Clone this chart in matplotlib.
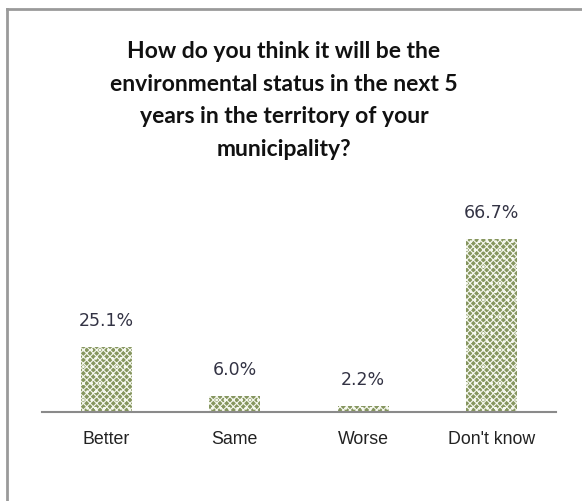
import matplotlib
matplotlib.use("Agg")
import matplotlib.pyplot as plt
from matplotlib.lines import Line2D

categories = ["Better", "Same", "Worse", "Don't know"]
values = [25.1, 6.0, 2.2, 66.7]
value_labels = ["25.1%", "6.0%", "2.2%", "66.7%"]
title = ("How do you think it will be the\nenvironmental status in the next 5\n"
         "years in the territory of your\nmunicipality?")

W, H = 582, 502
fig = plt.figure(figsize=(W / 100, H / 100), dpi=100)
fig.patch.set_facecolor("white")

# frame lines along the top and left edges
fig.add_artist(Line2D([7 / W, 7 / W], [0, 1 - 10 / H], color="#9a9a9a", lw=2.0))
fig.add_artist(Line2D([7 / W, 1], [1 - 10 / H, 1 - 10 / H], color="#9a9a9a", lw=2.0))

base_px = 413
left, right = 42 / W, 556 / W
bottom = 1 - base_px / H
top_px = 200
ax = fig.add_axes([left, bottom, right - left, (base_px - top_px) / H])
ymax = 66.7 * (base_px - top_px) / (base_px - 240)
ax.set_ylim(0, ymax)
ax.set_xlim(-0.5, len(categories) - 0.5)

plt.rcParams["hatch.linewidth"] = 0.8
bars = ax.bar(range(len(categories)), values, width=0.40,
              color="#86965f", edgecolor="#f6f8f0", hatch="xxxxx..", linewidth=0)

for i, (v, lab) in enumerate(zip(values, value_labels)):
    ax.annotate(lab, (i, v), xytext=(0, 13), textcoords="offset points",
                ha="center", va="bottom", fontsize=12.5,
                family="DejaVu Sans", color="#333344")

for s in ["top", "right", "left"]:
    ax.spines[s].set_visible(False)
ax.spines["bottom"].set_color("#8a8a8a")
ax.spines["bottom"].set_linewidth(1.5)
ax.set_yticks([])
ax.set_xticks(range(len(categories)))
ax.set_xticklabels(categories, fontsize=12.8, family="Liberation Sans", color="#222222")
ax.tick_params(axis="x", length=0, pad=13)

fig.text(284 / W, 1 - 41 / H, title, ha="center", va="top", fontsize=16.5,
         family="Lato", fontweight="bold", linespacing=1.68, color="#111111")

fig.savefig("out.png", dpi=100, facecolor="white")
